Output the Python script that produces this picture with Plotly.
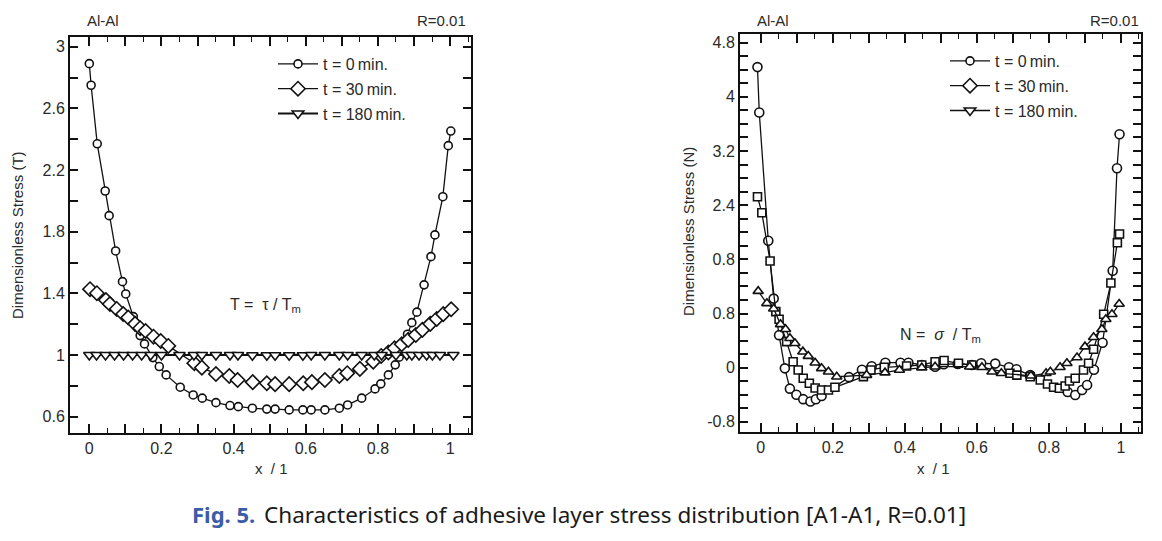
import plotly.graph_objects as go

# ---------------- data: left panel (shear stress T) ----------------
x_t0_L = [0.0, 0.005, 0.022, 0.044, 0.055, 0.073, 0.092, 0.101, 0.122, 0.141,
          0.153, 0.176, 0.194, 0.213, 0.252, 0.288, 0.313, 0.351, 0.39, 0.413,
          0.452, 0.492, 0.515, 0.554, 0.592, 0.615, 0.653, 0.693, 0.716, 0.755,
          0.792, 0.808, 0.829, 0.848, 0.859, 0.873, 0.882, 0.894, 0.908, 0.928,
          0.947, 0.958, 0.98, 0.995, 1.002]
y_t0_L = [2.89, 2.75, 2.37, 2.064, 1.904, 1.675, 1.476, 1.396, 1.249, 1.126,
          1.072, 0.983, 0.925, 0.871, 0.791, 0.741, 0.72, 0.691, 0.672, 0.665,
          0.655, 0.649, 0.649, 0.644, 0.644, 0.644, 0.644, 0.655, 0.676, 0.72,
          0.78, 0.813, 0.871, 0.936, 0.986, 1.077, 1.135, 1.21, 1.278, 1.455,
          1.638, 1.779, 2.027, 2.358, 2.453]

x_t30_L = [0.002, 0.021, 0.046, 0.057, 0.076, 0.094, 0.108, 0.127, 0.141, 0.156,
           0.178, 0.198, 0.219, 0.291, 0.312, 0.351, 0.388, 0.411, 0.453, 0.492,
           0.515, 0.554, 0.593, 0.617, 0.653, 0.693, 0.715, 0.75, 0.787, 0.809,
           0.829, 0.846, 0.866, 0.884, 0.905, 0.923, 0.945, 0.963, 0.981, 1.003]
y_t30_L = [1.427, 1.401, 1.357, 1.331, 1.299, 1.266, 1.243, 1.202, 1.174, 1.156,
           1.119, 1.091, 1.059, 0.947, 0.918, 0.877, 0.864, 0.838, 0.824, 0.817,
           0.811, 0.811, 0.817, 0.824, 0.838, 0.864, 0.882, 0.91, 0.957, 0.994,
           1.016, 1.044, 1.07, 1.098, 1.13, 1.163, 1.202, 1.234, 1.265, 1.297]

x_t180_L = [0.0, 0.02, 0.045, 0.07, 0.095, 0.12, 0.145, 0.17, 0.2, 0.25,
            0.29, 0.312, 0.351, 0.39, 0.412, 0.452, 0.492, 0.515, 0.554, 0.592,
            0.615, 0.653, 0.693, 0.716, 0.755, 0.79, 0.81, 0.85, 0.88, 0.894,
            0.914, 0.935, 0.951, 0.972, 1.009]
y_t180_L = [1.0, 1.0, 1.0, 1.0, 1.0, 1.0, 1.0, 1.0, 1.0, 1.0,
            1.0, 1.0, 1.0, 1.0, 1.0, 0.998, 0.998, 0.998, 0.998, 0.998,
            1.0, 1.0, 1.0, 1.0, 1.0, 1.0, 1.0, 1.0, 1.0, 1.0,
            1.0, 1.0, 1.0, 1.0, 1.0]

# ---------------- data: right panel (normal stress N) ----------------
x_t0_R = [-0.009, -0.004, 0.021, 0.036, 0.051, 0.067, 0.081, 0.099, 0.118, 0.138,
          0.153, 0.169, 0.245, 0.281, 0.308, 0.346, 0.388, 0.41, 0.447, 0.484,
          0.508, 0.547, 0.586, 0.612, 0.651, 0.689, 0.71, 0.748, 0.852, 0.873,
          0.892, 0.906, 0.925, 0.949, 0.977, 0.989, 0.996]
y_t0_R = [4.44, 3.77, 1.875, 1.02, 0.48, -0.01, -0.31, -0.40, -0.465, -0.50,
          -0.467, -0.418, -0.14, -0.03, 0.02, 0.073, 0.073, 0.073, 0.04, 0.014,
          0.05, 0.055, 0.04, 0.064, 0.06, 0.005, -0.024, -0.11, -0.36, -0.404,
          -0.33, -0.256, -0.03, 0.369, 1.432, 2.945, 3.447]

x_t30_R = [-0.009, 0.003, 0.026, 0.042, 0.051, 0.072, 0.09, 0.104, 0.118, 0.135,
           0.151, 0.169, 0.188, 0.206, 0.285, 0.306, 0.343, 0.405, 0.447, 0.484,
           0.509, 0.549, 0.586, 0.692, 0.711, 0.748, 0.776, 0.796, 0.813, 0.829,
           0.845, 0.857, 0.873, 0.896, 0.91, 0.924, 0.952, 0.972, 0.99, 0.996]
y_t30_R = [2.525, 2.289, 1.575, 0.827, 0.714, 0.384, 0.088, -0.034, -0.157, -0.23,
           -0.3, -0.33, -0.33, -0.29, -0.133, -0.034, 0.005, 0.024, 0.039, 0.088,
           0.105, 0.064, 0.04, -0.083, -0.11, -0.134, -0.183, -0.241, -0.29, -0.305,
           -0.27, -0.197, -0.157, -0.034, 0.064, 0.271, 0.788, 1.25, 1.846, 1.974]

x_t180_R = [-0.007, 0.017, 0.036, 0.055, 0.069, 0.081, 0.095, 0.117, 0.132, 0.151,
            0.169, 0.188, 0.211, 0.294, 0.345, 0.385, 0.447, 0.484, 0.58, 0.614,
            0.642, 0.668, 0.75, 0.792, 0.804, 0.831, 0.85, 0.878, 0.9, 0.924,
            0.947, 0.958, 0.975, 0.995]
y_t180_R = [1.13, 0.95, 0.87, 0.64, 0.567, 0.434, 0.36, 0.236, 0.171, 0.073,
            -0.01, -0.06, -0.134, -0.11, -0.074, -0.034, 0.0, 0.014, 0.014, 0.005,
            -0.06, -0.083, -0.12, -0.083, -0.06, 0.005, 0.064, 0.15, 0.31, 0.449,
            0.567, 0.714, 0.788, 0.94]

series_names = ["t = 0\u2009min.", "t = 30\u2009min.", "t = 180\u2009min."]

# ---------------- ticks ----------------
x_tickvals = [0, 0.1, 0.2, 0.3, 0.4, 0.5, 0.6, 0.7, 0.8, 0.9, 1.0]
x_ticktext = ["0", "", "0.2", "", "0.4", "", "0.6", "", "0.8", "", "1"]
x_minorvals = [0.05, 0.15, 0.25, 0.35, 0.45, 0.55, 0.65, 0.75, 0.85, 0.95, 1.05]

yL_tickvals = [0.6, 0.8, 1.0, 1.2, 1.4, 1.6, 1.8, 2.0, 2.2, 2.4, 2.6, 2.8, 3.0]
yL_ticktext = ["0.6", "", "1", "", "1.4", "", "1.8", "", "2.2", "", "2.6", "", "3"]

yR_tickvals = [-0.8, -0.6, -0.4, -0.2, 0.0, 0.2, 0.4, 0.6, 0.8, 1.0, 1.2, 1.4, 1.6,
               1.8, 2.0, 2.2, 2.4, 2.6, 2.8, 3.0, 3.2, 3.4, 3.6, 3.8, 4.0, 4.2,
               4.4, 4.6, 4.8]
yR_ticktext = ["-0.8", "", "", "", "0", "", "", "", "0.8", "", "", "", "0.8",
               "", "", "", "2.4", "", "", "", "3.2", "", "", "", "4", "",
               "", "", "4.8"]

# page body has an 8px margin: figure is sized to fit the window inside it
OFF = 8
W, H = 1162 - 2 * OFF, 541 - 2 * OFF
def fx(px):
    return (px - OFF) / W
def fy(py):
    return 1 - (py - OFF) / H

BLACK = "#111111"
TXT = "#2a2a2a"
FONT = "Arial, Liberation Sans, sans-serif"
CAPFONT = "Noto Sans, Open Sans, sans-serif"

fig = go.Figure()

def add(x, y, name, symbol, size, xa, ya, legend, showlegend=True, lw=1.3):
    fig.add_trace(go.Scatter(
        x=x, y=y, name=name, mode="lines+markers",
        line=dict(color=BLACK, width=lw),
        marker=dict(symbol=symbol, size=size, color="white",
                    line=dict(color=BLACK, width=1.6)),
        xaxis=xa, yaxis=ya, legend=legend, legendgroup=legend + name,
        showlegend=showlegend))

# left panel
add(x_t0_L, y_t0_L, series_names[0], "circle", 8, "x", "y", "legend")
add(x_t30_L, y_t30_L, series_names[1], "diamond", 11, "x", "y", "legend")
add(x_t180_L, y_t180_L, series_names[2], "triangle-down", 10, "x", "y", "legend", lw=1.8)

# right panel (plotted markers differ from legend markers in the original)
add(x_t0_R, y_t0_R, series_names[0], "circle", 9, "x2", "y2", "legend2", showlegend=False)
add(x_t30_R, y_t30_R, series_names[1], "square", 8, "x2", "y2", "legend2", showlegend=False)
add(x_t180_R, y_t180_R, series_names[2], "triangle-up", 9, "x2", "y2", "legend2", showlegend=False)
add([None], [None], series_names[0], "circle", 8, "x2", "y2", "legend2")
add([None], [None], series_names[1], "diamond", 11, "x2", "y2", "legend2")
add([None], [None], series_names[2], "triangle-down", 10, "x2", "y2", "legend2")

def xaxis(domain, rng, anchor):
    return dict(domain=domain, range=rng, anchor=anchor,
                tickmode="array", tickvals=x_tickvals, ticktext=x_ticktext,
                ticks="inside", ticklen=9, tickwidth=1.5, tickcolor=BLACK,
                minor=dict(tickmode="array", tickvals=x_minorvals, ticks="inside",
                           ticklen=5, tickwidth=1.3, tickcolor=BLACK),
                showline=True, linewidth=2, linecolor=BLACK, mirror="allticks",
                showgrid=False, zeroline=False,
                tickfont=dict(family=FONT, size=16, color=TXT))

def yaxis(domain, rng, anchor, tv, tt):
    return dict(domain=domain, range=rng, anchor=anchor,
                tickmode="array", tickvals=tv, ticktext=tt,
                ticks="inside", ticklen=8, tickwidth=1.5, tickcolor=BLACK,
                showline=True, linewidth=2, linecolor=BLACK, mirror="allticks",
                showgrid=False, zeroline=False,
                tickfont=dict(family=FONT, size=16, color=TXT))

fig.update_layout(
    width=W, height=H, margin=dict(l=0, r=0, t=0, b=0),
    paper_bgcolor="white", plot_bgcolor="white",
    xaxis=xaxis([fx(70), fx(471)], [-0.0535, 1.058], "y"),
    yaxis=yaxis([fy(433), fy(37)], [0.494, 3.063], "x", yL_tickvals, yL_ticktext),
    xaxis2=xaxis([fx(740), fx(1141)], [-0.0575, 1.0556], "y2"),
    yaxis2=yaxis([fy(431.7), fy(33.5)], [-0.946, 4.936], "x2", yR_tickvals, yR_ticktext),
    legend=dict(x=fx(273), y=fy(47), xanchor="left", yanchor="top",
                bgcolor="rgba(0,0,0,0)", tracegroupgap=1, itemwidth=40,
                font=dict(family=FONT, size=16, color=TXT)),
    legend2=dict(x=fx(945), y=fy(44), xanchor="left", yanchor="top",
                 bgcolor="rgba(0,0,0,0)", tracegroupgap=1, itemwidth=40,
                 font=dict(family=FONT, size=16, color=TXT)),
    showlegend=True,
)

def note(text, x, y, size=14, xanchor="center", angle=0, color=TXT, family=FONT):
    fig.add_annotation(text=text, x=fx(x), y=fy(y), xref="paper", yref="paper",
                       showarrow=False, xanchor=xanchor, yanchor="middle",
                       textangle=angle, font=dict(family=family, size=size, color=color))

# panel headers
note("Al-Al", 85, 20, size=15, xanchor="left")
note("R=0.01", 468, 20, size=15, xanchor="right")
note("Al-Al", 755, 20, size=15, xanchor="left")
note("R=0.01", 1141, 20, size=15, xanchor="right")

# axis titles
note("Dimensionless Stress (T)", 18, 235, size=15, angle=-90)
note("Dimensionless Stress (N)", 688, 232, size=15, angle=-90)
note("x  / 1", 271, 468, size=15)
note("x  / 1", 933, 468, size=15)

# formula labels
note("T =  \u03c4 / T<sub>m</sub>", 228, 305, size=16, xanchor="left")
note("N =  <i>\u03c3</i>  / T<sub>m</sub>", 898, 335, size=16, xanchor="left")

# caption (two pieces: blue figure number, black description)
note("<b>Fig. 5.</b>", 257, 514, size=22, xanchor="right", color="#3a5da5", family=CAPFONT)
note("Characteristics of adhesive layer stress distribution [A1-A1, R=0.01]",
     262, 514, size=22.5, xanchor="left", color="#1a1a1a", family=CAPFONT)

fig.write_html("out.html")
